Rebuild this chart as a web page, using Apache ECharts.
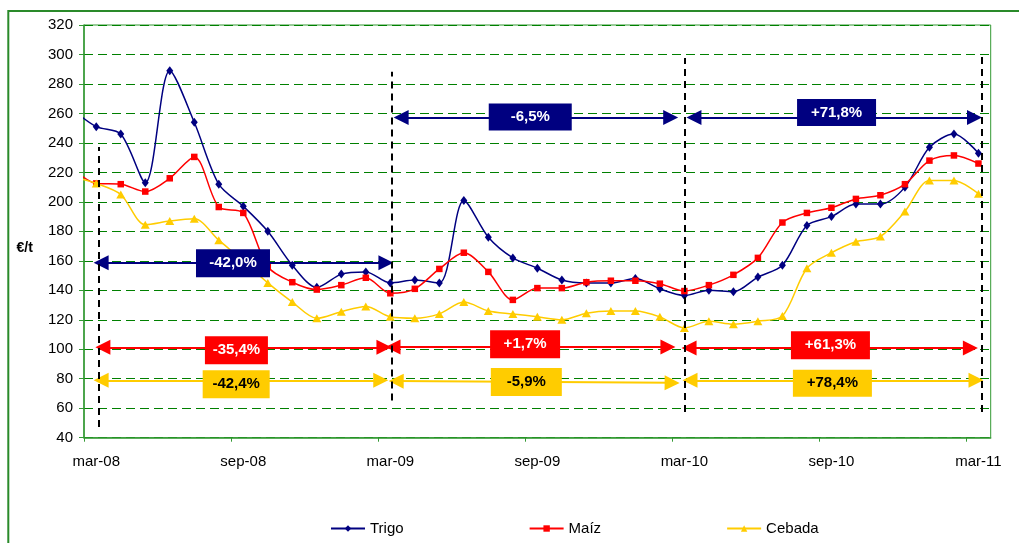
<!DOCTYPE html>
<html><head><meta charset="utf-8">
<script src="https://cdn.jsdelivr.net/npm/echarts@6/dist/echarts.min.js"></script>
<style>html,body{margin:0;padding:0;background:#fff}#c{width:1019px;height:543px}</style>
</head><body><div id="c"></div>
<script>
// ---- data (monthly prices, €/t) ----
const months = ['feb-08','mar-08','abr-08','may-08','jun-08','jul-08','ago-08','sep-08','oct-08','nov-08','dic-08',
  'ene-09','feb-09','mar-09','abr-09','may-09','jun-09','jul-09','ago-09','sep-09','oct-09','nov-09','dic-09',
  'ene-10','feb-10','mar-10','abr-10','may-10','jun-10','jul-10','ago-10','sep-10','oct-10','nov-10','dic-10',
  'ene-11','feb-11','mar-11'];
const trigo  = [263,251,246,213,289,254,212,197,180,157,142,
  151,152.5,145,147,145,201,176,162,155,147,145,145,
  148,141,136.5,140,139,149,157,184,190,198.5,198.5,210,
  237,246,233];
const maiz   = [223,212.5,212,207,216,230.5,196.5,192.5,156,145.5,140.5,
  143.5,148.5,138,141,154.5,165.5,152.5,133.5,141.5,141.5,145.5,146.5,
  146.5,144.5,139.5,143.5,150.5,162,186,192.5,196,202,204.5,212,
  228,231.5,226];
const cebada = [217,212.5,205,184.5,187,188.5,174,160,145,132,121,
  125.5,129,122,121,124,132,126,124,122,120,124.5,126,
  126,122,114.5,119,117,119,122.5,155,165.5,173,176.5,193.5,
  214.5,214.5,205.5];
const xLabelMonths = ['mar-08','sep-08','mar-09','sep-09','mar-10','sep-10','mar-11'];
const seriesNames = ['Trigo','Maíz','Cebada'];
// period changes (mar-08→mar-09, mar-09→mar-10, mar-10→mar-11)
const trigoChange  = ['-42,0%','-6,5%','+71,8%'];
const maizChange   = ['-35,4%','+1,7%','+61,3%'];
const cebadaChange = ['-42,4%','-5,9%','+78,4%'];

// ---- layout of annotations (in axis units) ----
const FONT = "'Liberation Sans', Arial, sans-serif";
const colors = {Trigo:'#000080', 'Maíz':'#FF0000', Cebada:'#FFCC00'};
const textColors = {Trigo:'#ffffff', 'Maíz':'#ffffff', Cebada:'#000000'};
// arrows: [x1, y1, x2, y2]
const arrowLayout = {
  Trigo:  [[0.2,158.7,11.82,158.7],[12.44,257.3,23.44,257.3],[24.39,257.3,35.84,257.3]],
  'Maíz': [[0.27,101.3,11.74,101.3],[12.11,101.5,23.33,101.5],[24.19,100.8,35.67,100.8]],
  Cebada: [[0.2,78.9,11.61,78.9],[12.24,78.4,23.5,77.2],[24.23,78.9,35.9,78.9]]
};
// boxes: [cx, cy, w, h]
const boxLayout = {
  Trigo:  [[5.58,158.4,74,28],[17.71,257.5,83,27],[30.21,260.6,79,27]],
  'Maíz': [[5.72,99.3,63,28],[17.5,103.4,70,28],[29.96,102.7,79,28]],
  Cebada: [[5.71,76.3,67,28],[17.55,77.8,71,28],[30.04,77.0,79,27]]
};
// vertical dashed separators: [x, yBottom, yTop]
const separators = [[0.1,47.2,237.3],[12.07,65.3,288.3],[24.0,57.4,297.6],[36.15,57.4,298.5]];

const changes = {Trigo: trigoChange, 'Maíz': maizChange, Cebada: cebadaChange};
const xOf = m => months.indexOf(m) - 1;
const toPairs = arr => arr.map((v,i)=>[i-1, v]);

const lineMarks = [];
seriesNames.forEach(n => {
  arrowLayout[n].forEach(a => {
    const ls = {color: colors[n], width: 2, type: 'solid'};
    lineMarks.push([{coord:[a[0],a[1]], lineStyle: ls}, {coord:[a[2],a[3]], lineStyle: ls}]);
  });
});
separators.forEach(s => {
  const ls = {color:'#000', width:2, type:[7,5]};
  lineMarks.push([{coord:[s[0],s[1]], symbol:'none', lineStyle: ls}, {coord:[s[0],s[2]], symbol:'none', lineStyle: ls}]);
});
const boxMarks = [];
seriesNames.forEach(n => {
  boxLayout[n].forEach((b,k) => {
    boxMarks.push({
      coord:[b[0],b[1]], symbol:'rect', symbolSize:[b[2],b[3]],
      itemStyle:{color: colors[n]},
      label:{show:true, position:'inside', formatter: changes[n][k], color: textColors[n],
        fontSize:15, fontWeight:'bold', fontFamily: FONT}
    });
  });
});

const green = '#339933';
const labelTicks = xLabelMonths.map(xOf);
const option = {
  animation:false,
  backgroundColor:'#fff',
  textStyle:{fontFamily: FONT},
  grid:{left:84, right:28.3, top:25, bottom:105.3, show:true, borderColor:green, borderWidth:1, backgroundColor:'transparent'},
  xAxis:{
    type:'value', min:-0.5, max:36.5,
    axisLine:{show:true, onZero:false, lineStyle:{color:green, width:1.5}},
    axisTick:{show:true, length:4, customValues: labelTicks.map(v=>v-0.5), lineStyle:{color:green, width:1}},
    axisLabel:{customValues: labelTicks, formatter: v => months[Math.round(v)+1], fontSize:15, color:'#000', margin:17, fontFamily: FONT},
    splitLine:{show:false}
  },
  yAxis:{
    type:'value', min:40, max:320, interval:20,
    axisLine:{show:true, onZero:false, lineStyle:{color:green, width:1.5}},
    axisTick:{show:true, length:5, lineStyle:{color:green, width:1}},
    axisLabel:{fontSize:15, color:'#000', margin:11, fontFamily: FONT},
    splitLine:{show:true, lineStyle:{color:'#008000', type:[9,5], width:1}}
  },
  legend:{
    data: seriesNames, left:325, top:516, itemWidth:34, itemHeight:8, itemGap:125,
    textStyle:{fontSize:15, color:'#000', fontFamily: FONT}
  },
  graphic:[
    {type:'rect', silent:true, z:-1, shape:{x:8.3, y:11, width:1040, height:580}, style:{fill:'none', stroke:'#2a8a2a', lineWidth:2}},
    {type:'text', silent:true, left:16.5, top:241, style:{text:'€/t', font:"bold 14px 'Liberation Sans', Arial, sans-serif", fill:'#000'}}
  ],
  series:[
    {name:'Trigo', type:'line', data: toPairs(trigo), smooth:0.3, symbol:'diamond', symbolSize:[7,9],
      itemStyle:{color:colors.Trigo}, lineStyle:{color:colors.Trigo, width:1.5}, z:2},
    {name:'Maíz', type:'line', data: toPairs(maiz), smooth:0.3, symbol:'rect', symbolSize:6.5,
      itemStyle:{color:colors['Maíz']}, lineStyle:{color:colors['Maíz'], width:1.5}, z:3},
    {name:'Cebada', type:'line', data: toPairs(cebada), smooth:0.3, symbol:'triangle', symbolSize:[9,8],
      itemStyle:{color:colors.Cebada}, lineStyle:{color:colors.Cebada, width:1.5}, z:4},
    {name:'_lines', type:'line', data:[], z:10, silent:true,
      markLine:{silent:true, animation:false, symbol:['triangle','triangle'], symbolSize:15,
        label:{show:false}, emphasis:{disabled:true}, data: lineMarks}},
    {name:'_boxes', type:'line', data:[], z:11, silent:true,
      markPoint:{silent:true, animation:false, emphasis:{disabled:true}, data: boxMarks}}
  ]
};
const chart = echarts.init(document.getElementById('c'), null, {renderer:'canvas'});
chart.setOption(option);
</script>
</body></html>
